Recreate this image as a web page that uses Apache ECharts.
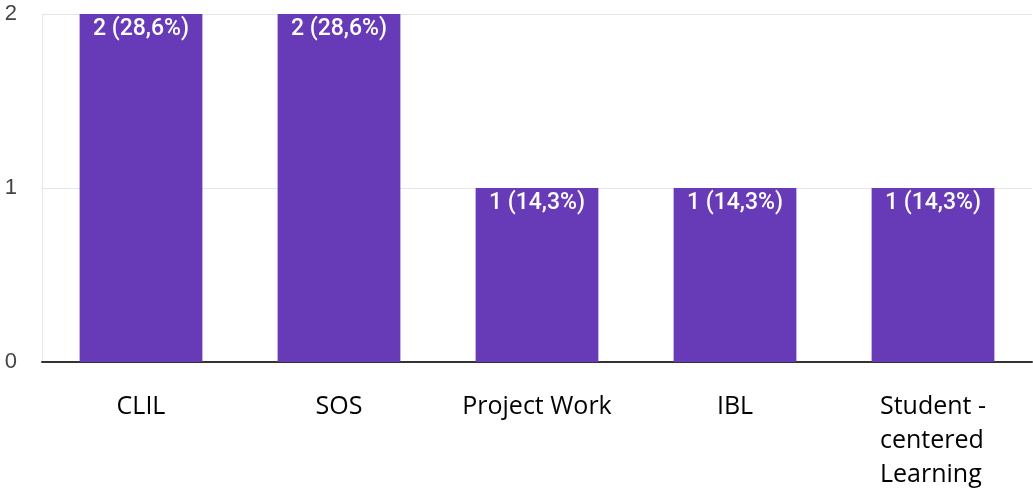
<!DOCTYPE html>
<html>
<head>
<meta charset="utf-8">
<script src="https://cdn.jsdelivr.net/npm/echarts@6/dist/echarts.min.js"></script>
<style>html,body{margin:0;padding:0;background:#fff}#c{width:1033px;height:492px}</style>
</head>
<body>
<div id="c"></div>
<script>
const categories = ['CLIL', 'SOS', 'Project Work', 'IBL', 'Student -\ncentered\nLearning'];
const values = [2, 2, 1, 1, 1];
const percents = ['28,6%', '28,6%', '14,3%', '14,3%', '14,3%'];
const yTicks = [0, 1, 2];

const chart = echarts.init(document.getElementById('c'));
chart.setOption({
  animation: false,
  grid: { left: 42, right: 1, top: 14, bottom: 130, containLabel: false },
  xAxis: {
    type: 'category',
    data: categories,
    axisLine: { lineStyle: { color: '#333', width: 2 } },
    axisTick: { show: false },
    axisLabel: {
      interval: 0,
      margin: 28,
      color: '#000',
      fontFamily: 'Open Sans',
      fontSize: 25,
      lineHeight: 34,
      formatter: function (v) {
        if (v.indexOf('\n') >= 0) {
          return v.split('\n').map(function (s) { return '{a|' + s + '}'; }).join('\n');
        }
        return v;
      },
      rich: { a: { align: 'left', fontFamily: 'Open Sans', fontSize: 25, lineHeight: 34, color: '#000' } }
    }
  },
  yAxis: {
    type: 'value',
    min: 0, max: 2, interval: 1,
    axisLine: { show: true, lineStyle: { color: '#e6e6e6' } },
    axisTick: { show: false },
    splitLine: { lineStyle: { color: '#e6e6e6' } },
    axisLabel: {
      color: '#444', fontFamily: 'Arial, Liberation Sans', fontSize: 22, margin: 25,
      formatter: function (v) { return yTicks.indexOf(v) >= 0 ? String(v) : ''; }
    }
  },
  series: [{
    type: 'bar',
    data: values,
    barCategoryGap: '38%',
    itemStyle: { color: '#673ab7' },
    label: {
      show: true, position: 'insideTop', distance: 4,
      color: '#fff', fontFamily: 'Roboto', fontWeight: 500, fontSize: 23,
      formatter: function (p) { return p.value + ' (' + percents[p.dataIndex] + ')'; }
    }
  }]
});
</script>
</body>
</html>
